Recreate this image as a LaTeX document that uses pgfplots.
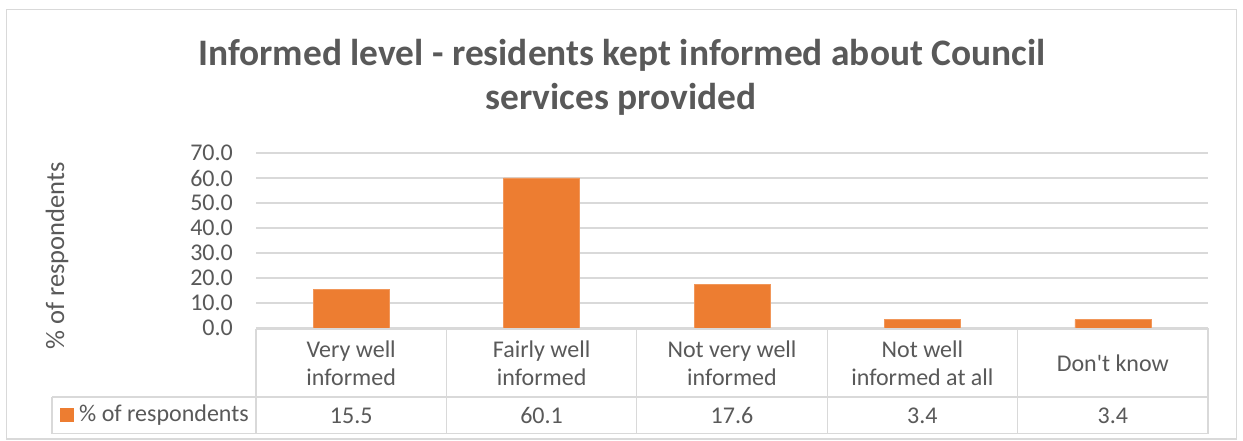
\documentclass[border=0pt]{standalone}
\usepackage{pgfplots}
\pgfplotsset{compat=1.18}
\usepackage{pgfplotstable}
\usepackage{fontspec}
\setmainfont{Carlito}
\definecolor{textgray}{HTML}{595959}
\definecolor{gridgray}{HTML}{D9D9D9}
\definecolor{barorange}{HTML}{ED7D31}
\pgfplotstableread{
x y
0 15.5
1 60.1
2 17.6
3 3.4
4 3.4
}\datatab
\begin{document}
\begin{tikzpicture}
\useasboundingbox (0pt,0pt) rectangle (1243pt,-440pt);
\fill[white] (0pt,0pt) rectangle (1243pt,-440pt);
\draw[gridgray, line width=1.2pt] (6.5pt,-9.5pt) rectangle (1236.5pt,-439pt);
% title
\node[anchor=base, text=textgray, font=\fontsize{37.4}{44}\selectfont\bfseries] at (622pt,-65pt) {Informed level - residents kept informed about Council};
\node[anchor=base, text=textgray, font=\fontsize{37.4}{44}\selectfont\bfseries] at (621pt,-109pt) {services provided};
% y label
\node[rotate=90, text=textgray, font=\fontsize{26.5}{30}\selectfont] at (57pt,-256pt) {\% of respondents};
\begin{axis}[
  at={(256pt,-328pt)}, anchor=south west,
  width=952pt, height=175pt, scale only axis,
  xmin=-0.5, xmax=4.5, ymin=0, ymax=70,
  ytick={0,10,...,70},
  xtick={0,1,2,3,4},
  xticklabels={{Very well\\informed},{Fairly well\\informed},{Not very well\\informed},{Not well\\informed at all},{Don\textquotesingle t know}},
  xticklabel style={align=center, anchor=center, yshift=-35pt, text=textgray, font=\fontsize{24}{27.5}\selectfont},
  yticklabel style={inner sep=0pt, xshift=-23pt, text=textgray, font=\fontsize{24}{27}\selectfont},
  /pgf/number format/.cd, fixed, fixed zerofill, precision=1, assume math mode=true,
  /pgfplots/.cd,
  ymajorgrids, grid style={gridgray, line width=1.3pt},
  axis line style={draw=none},
  major tick length=0pt,
  clip=false,
]
\addplot[ybar, bar width=76pt, bar shift=0pt, fill=barorange, draw=barorange!80!white] table[x=x, y=y] {\datatab};
\addplot[sharp plot, draw=none, mark=none, nodes near coords, point meta=explicit symbolic,
  every node near coord/.style={anchor=center, text=textgray, font=\fontsize{24}{27}\selectfont}]
  table[x=x, y expr=-35, meta=y] {\datatab};
\end{axis}
% data table grid
\begin{scope}[gridgray, line width=1.3pt]
\draw (256pt,-329pt) -- (1208.5pt,-329pt);
\draw (52pt,-397pt) -- (1208.5pt,-397pt);
\draw (52pt,-433.5pt) -- (1208.5pt,-433.5pt);
\draw (52pt,-397pt) -- (52pt,-433.5pt);
\foreach \i in {0,...,5} {
  \draw ({(256+190.4*\i)*1pt},-329pt) -- ({(256+190.4*\i)*1pt},-433.5pt);
}
\end{scope}
\fill[barorange] (60pt,-408pt) rectangle (74pt,-422pt);
\node[anchor=west, inner sep=0pt, text=textgray, font=\fontsize{24}{27}\selectfont] at (79pt,-415pt) {\% of respondents};
\end{tikzpicture}
\end{document}
